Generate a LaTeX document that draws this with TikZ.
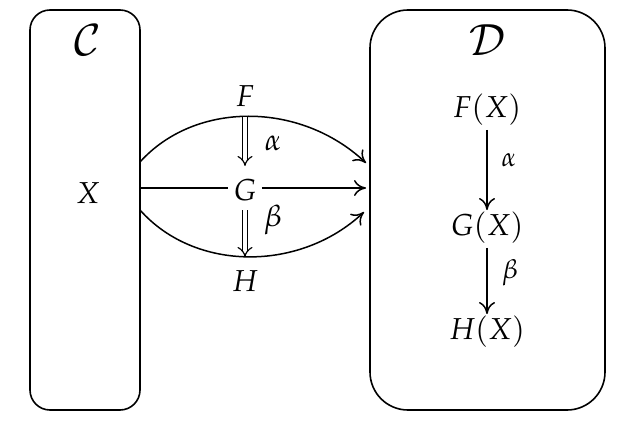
\documentclass[tikz,border=0pt]{standalone}
\usepackage{mathpazo}
\usepackage{graphicx}
\usetikzlibrary{arrows.meta}
\newcommand\mylbl[2][1.75]{\scalebox{#1}{$#2$}}
\begin{document}
\begin{tikzpicture}[x=1pt,y=-1pt,
  box/.style={draw,line width=1.6pt,rounded corners=#1,inner sep=0pt},
  lbl/.style={inner sep=0pt,font=\fontsize{17.28}{20}\selectfont},
  arr/.style={line width=1.5pt,-{To[length=12pt,width=16pt,line width=1.5pt]}},
  nat/.style={line width=1.2pt,double distance=4pt,-{Implies[length=10pt,width=13pt]}}]
\useasboundingbox (0,0) rectangle (634,420);
\node[box=20pt,minimum width=110pt,minimum height=400pt] (C) at (85,210) {};
\node[box=38pt,minimum width=235pt,minimum height=400pt] (D) at (487.5,210) {};
\node[lbl] (Cl) at (88,40) {\mylbl[2.5]{\mathcal{C}}};
\node[lbl] (Dl) at (487,40) {\mylbl[2.5]{\mathcal{D}}};
\node[lbl] (X) at (88,193) {\mylbl{X}};
\node[lbl] (F) at (245,96) {\mylbl{F}};
\node[lbl,fill=white,inner sep=5pt] (G) at (245,190) {\mylbl{G}};
\node[lbl] (H) at (245,281) {\mylbl{H}};
\coordinate (s1) at (140,162);
\coordinate (s2) at (140,188);
\coordinate (s3) at (140,210);
\coordinate (t1) at (366,163);
\coordinate (t2) at (366,188);
\coordinate (t3) at (364,212);
\draw[arr] (s1) .. controls (195,101) and (300,101) .. (t1);
\draw[arr] (s3) .. controls (195,272) and (300,272) .. (t3);
\draw[line width=1.5pt] (s2) -- (G.west|-s2);
\draw[arr] (G.east|-t2) -- (t2);
\coordinate (a1) at (245,117);
\coordinate (a2) at (245,166);
\coordinate (b1) at (245,210);
\coordinate (b2) at (245,257);
\draw[nat] (a1) -- (a2);
\draw[nat] (b1) -- (b2);
\node[lbl] (al) at (273,143) {\mylbl{\alpha}};
\node[lbl] (be) at (273,220) {\mylbl{\beta}};
\node[lbl] (FX) at (487,110) {\mylbl{F(X)}};
\node[lbl] (GX) at (487,228) {\mylbl{G(X)}};
\node[lbl] (HX) at (487,332) {\mylbl{H(X)}};
\draw[arr,shorten <=4pt,shorten >=2pt] (FX) -- (GX);
\draw[arr,shorten <=4pt,shorten >=2pt] (GX) -- (HX);
\node[lbl] (al2) at (509,160) {\mylbl[1.55]{\alpha}};
\node[lbl] (be2) at (510,273) {\mylbl[1.55]{\beta}};
\end{tikzpicture}
\end{document}
